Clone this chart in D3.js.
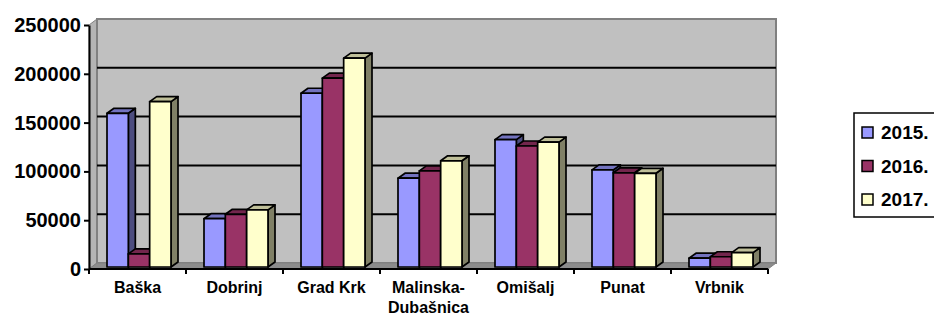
<!DOCTYPE html>
<meta charset="utf-8">
<script src="https://d3js.org/d3.v7.min.js"></script>
<style>
  body { margin: 0; background: #fff; }
  text { font-family: "Liberation Sans", Arial, sans-serif; font-weight: bold; fill: #000; }
</style>
<div id="chart"></div>
<script>
// data
var categories = ["Baška", "Dobrinj", "Grad Krk", "Malinska-\nDubašnica", "Omišalj", "Punat", "Vrbnik"];
var years = ["2015.", "2016.", "2017."];
var v2015 = [157500, 49500, 178000, 91000, 130500, 99500, 9000];
var v2016 = [13500, 54000, 193500, 98500, 124000, 96500, 10500];
var v2017 = [169500, 58500, 214000, 108800, 128000, 96000, 14700];
var yTicks = [0, 50000, 100000, 150000, 200000, 250000];

var series = [v2015, v2016, v2017];
var colors = [
  {front: "#9999ff", top: "#7373bf", side: "#4d4d80"},
  {front: "#993366", top: "#73264d", side: "#4d1a33"},
  {front: "#ffffcc", top: "#bfbf99", side: "#808066"}
];

var W = 934, H = 316;
var svg = d3.select("#chart").append("svg").attr("width", W).attr("height", H);

var plot = {left: 89, right: 768, top: 25, bottom: 269};
var dx = 8, dy = -6;        // depth of walls
var bdx = 7, bdy = -5;      // depth of bars

var x0 = d3.scaleBand().domain(categories).range([plot.left, plot.right]);
var x1 = d3.scaleBand().domain(years).range([17, 81]);
var y = d3.scaleLinear().domain([0, 250000]).range([plot.bottom, plot.top]);

function pts(a) { return a.map(function(p) { return p.join(","); }).join(" "); }

// side wall
svg.append("polygon")
  .attr("points", pts([[plot.left, plot.top], [plot.left + dx, plot.top + dy], [plot.left + dx, plot.bottom + dy], [plot.left, plot.bottom]]))
  .attr("fill", "#b4b4b4").attr("stroke", "#808080").attr("stroke-width", 1);

// back wall
svg.append("rect")
  .attr("x", plot.left + dx).attr("y", plot.top + dy)
  .attr("width", plot.right - plot.left).attr("height", plot.bottom - plot.top)
  .attr("fill", "#c0c0c0").attr("stroke", "#808080").attr("stroke-width", 2);

// gridlines
svg.append("g").selectAll("line")
  .data(yTicks.filter(function(t) { return t > 0 && t < 250000; }))
  .enter().append("line")
  .attr("x1", plot.left + dx).attr("x2", plot.right + dx)
  .attr("y1", function(d) { return y(d) + dy; })
  .attr("y2", function(d) { return y(d) + dy; })
  .attr("stroke", "#000").attr("stroke-width", 2);

// floor
svg.append("polygon")
  .attr("points", pts([[plot.left, plot.bottom], [plot.left + dx, plot.bottom + dy], [plot.right + dx, plot.bottom + dy], [plot.right, plot.bottom]]))
  .attr("fill", "#8c8c8c").attr("stroke", "#808080").attr("stroke-width", 1);

// bars
var bars = svg.append("g");
var bw = x1.bandwidth();
categories.forEach(function(c, i) {
  years.forEach(function(yr, s) {
    var v = series[s][i];
    var xl = x0(c) + x1(yr) + 1;
    var xr = xl + bw;
    var yt = y(v) - 2;
    var yb = y(0) - 2;
    var g = bars.append("g")
      .attr("stroke", "#000").attr("stroke-width", 1.7).attr("stroke-linejoin", "round");
    g.append("polygon")
      .attr("points", pts([[xr, yt], [xr + bdx, yt + bdy], [xr + bdx, yb + bdy], [xr, yb]]))
      .attr("fill", colors[s].side);
    g.append("polygon")
      .attr("points", pts([[xl, yt], [xl + bdx, yt + bdy], [xr + bdx, yt + bdy], [xr, yt]]))
      .attr("fill", colors[s].top);
    g.append("rect")
      .attr("x", xl).attr("y", yt).attr("width", bw).attr("height", yb - yt)
      .attr("fill", colors[s].front);
  });
});

// y axis
var yAxis = svg.append("g")
  .attr("transform", "translate(" + plot.left + ",0)")
  .call(d3.axisLeft(y).tickValues(yTicks).tickFormat(d3.format("d")).tickSize(5).tickSizeOuter(0).tickPadding(3));
yAxis.selectAll("path, line").attr("stroke", "#000").attr("stroke-width", 2);
yAxis.selectAll("text").style("font-size", "20px").attr("fill", "#000");

// x axis
var xAxis = svg.append("g");
xAxis.append("line")
  .attr("x1", plot.left).attr("x2", plot.right)
  .attr("y1", plot.bottom).attr("y2", plot.bottom)
  .attr("stroke", "#000").attr("stroke-width", 2);
xAxis.selectAll(".tk")
  .data(d3.range(categories.length + 1))
  .enter().append("line")
  .attr("x1", function(d) { return plot.left + d * x0.step(); })
  .attr("x2", function(d) { return plot.left + d * x0.step(); })
  .attr("y1", plot.bottom).attr("y2", plot.bottom + 5)
  .attr("stroke", "#000").attr("stroke-width", 2);
var lbl = xAxis.selectAll(".lbl")
  .data(categories)
  .enter().append("text")
  .attr("text-anchor", "middle")
  .style("font-size", "16px")
  .attr("x", function(d) { return x0(d) + x0.bandwidth() / 2; })
  .attr("y", 293);
lbl.each(function(d) {
  var t = d3.select(this);
  d.split("\n").forEach(function(line, k) {
    t.append("tspan")
      .attr("x", t.attr("x"))
      .attr("dy", k === 0 ? 0 : 20)
      .text(line);
  });
});

// legend
var legend = svg.append("g");
legend.append("rect")
  .attr("x", 854).attr("y", 113).attr("width", 100).attr("height", 104)
  .attr("fill", "#fff").attr("stroke", "#000").attr("stroke-width", 1.5);
var items = legend.selectAll(".item")
  .data(years)
  .enter().append("g")
  .attr("transform", function(d, i) { return "translate(0," + (132.5 + i * 33.5) + ")"; });
items.append("rect")
  .attr("x", 862).attr("y", -5.5).attr("width", 11).attr("height", 11)
  .attr("fill", function(d, i) { return colors[i].front; })
  .attr("stroke", "#000").attr("stroke-width", 1.5);
items.append("text")
  .attr("x", 881).attr("dy", "0.36em")
  .style("font-size", "19px")
  .text(function(d) { return d; });
</script>
